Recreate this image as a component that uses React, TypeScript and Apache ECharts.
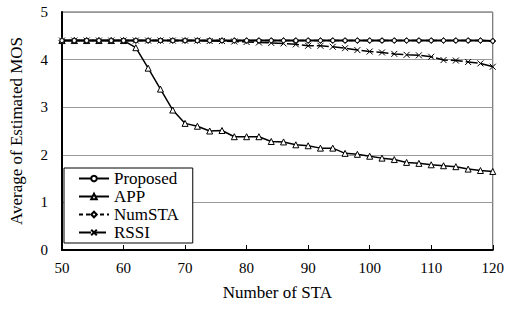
import React, { useEffect, useRef } from "react";
import * as echarts from "echarts";

const staCounts = [50, 52, 54, 56, 58, 60, 62, 64, 66, 68, 70, 72, 74, 76, 78, 80, 82, 84, 86, 88, 90, 92, 94, 96, 98, 100, 102, 104, 106, 108, 110, 112, 114, 116, 118, 120];
const proposed = [4.4, 4.4, 4.4, 4.4, 4.4, 4.4, 4.4, 4.4, 4.4, 4.4, 4.4, 4.4, 4.4, 4.4, 4.4, 4.4, 4.4, 4.4, 4.4, 4.4, 4.4, 4.4, 4.4, 4.4, 4.4, 4.4, 4.4, 4.4, 4.4, 4.4, 4.4, 4.4, 4.4, 4.4, 4.4, 4.39];
const app = [4.4, 4.4, 4.4, 4.4, 4.4, 4.4, 4.25, 3.82, 3.38, 2.94, 2.66, 2.6, 2.5, 2.51, 2.38, 2.38, 2.38, 2.28, 2.27, 2.21, 2.19, 2.14, 2.14, 2.03, 2.01, 1.97, 1.93, 1.9, 1.84, 1.82, 1.79, 1.77, 1.75, 1.7, 1.67, 1.65];
const numSta = [4.4, 4.4, 4.4, 4.4, 4.4, 4.4, 4.4, 4.4, 4.4, 4.4, 4.4, 4.4, 4.4, 4.4, 4.4, 4.4, 4.4, 4.4, 4.4, 4.4, 4.4, 4.4, 4.4, 4.4, 4.4, 4.4, 4.4, 4.4, 4.4, 4.4, 4.4, 4.4, 4.4, 4.4, 4.4, 4.39];
const rssi = [4.4, 4.4, 4.4, 4.4, 4.4, 4.4, 4.4, 4.4, 4.4, 4.4, 4.4, 4.4, 4.39, 4.39, 4.38, 4.37, 4.36, 4.35, 4.34, 4.32, 4.29, 4.29, 4.27, 4.24, 4.2, 4.17, 4.15, 4.12, 4.1, 4.09, 4.06, 3.99, 3.98, 3.95, 3.92, 3.85];

const FONT = "'Liberation Serif', 'Times New Roman', serif";

const pairs = (ys: number[]) => staCounts.map((x, i) => [x, ys[i]]);

export default function App() {
  const ref = useRef<HTMLDivElement>(null);
  useEffect(() => {
    if (!ref.current) return;
    const chart = echarts.init(ref.current, undefined, { renderer: "svg" });
    chart.setOption({
      animation: false,
      backgroundColor: "#fff",
      grid: {
        left: 53,
        right: 13,
        top: 12,
        bottom: 60,
        show: true,
        borderColor: "#555",
        borderWidth: 1,
      },
      legend: {
        orient: "vertical",
        left: 64,
        top: 168,
        width: 130,
        padding: [2, 14, 2, 14],
        itemGap: 1,
        itemWidth: 30,
        itemHeight: 7,
        borderColor: "#000",
        borderWidth: 1,
        backgroundColor: "#fff",
        textStyle: { fontFamily: FONT, fontSize: 17, color: "#000", padding: [0, 0, 0, 0], lineHeight: 16 },
        data: ["Proposed", "APP", "NumSTA", "RSSI"],
      },
      xAxis: {
        type: "value",
        min: 50,
        max: 120,
        interval: 10,
        name: "Number of STA",
        nameLocation: "middle",
        nameGap: 34,
        nameTextStyle: { fontFamily: FONT, fontSize: 17, color: "#000" },
        axisLine: { show: true, lineStyle: { color: "#000", width: 2 } },
        axisTick: { show: true, inside: true, length: 5, lineStyle: { color: "#000", width: 1 } },
        axisLabel: { fontFamily: FONT, fontSize: 15, color: "#000", margin: 10 },
        splitLine: { show: false },
      },
      yAxis: {
        type: "value",
        min: 0,
        max: 5,
        interval: 1,
        name: "Average of Estimated MOS",
        nameLocation: "middle",
        nameGap: 37,
        nameTextStyle: { fontFamily: FONT, fontSize: 17, color: "#000" },
        axisLine: { show: true, lineStyle: { color: "#000", width: 2 } },
        axisTick: { show: false },
        axisLabel: { fontFamily: FONT, fontSize: 15, color: "#000", margin: 14 },
        splitLine: { show: true, lineStyle: { color: "#999", width: 1 } },
      },
      series: [
        {
          name: "APP",
          type: "line",
          data: pairs(app),
          symbol: "triangle",
          symbolSize: 6,
          itemStyle: { color: "#fff", borderColor: "#000", borderWidth: 1 },
          lineStyle: { color: "#000", width: 1.5 },
          z: 2,
        },
        {
          name: "RSSI",
          type: "line",
          data: pairs(rssi),
          symbol: "path://M0,0L10,10M10,0L0,10",
          symbolSize: 6,
          itemStyle: { color: "none", borderColor: "#000", borderWidth: 1 },
          lineStyle: { color: "#000", width: 1.5, type: [12, 3] },
          z: 3,
        },
        {
          name: "NumSTA",
          type: "line",
          data: pairs(numSta),
          symbol: "diamond",
          symbolSize: 6,
          itemStyle: { color: "#fff", borderColor: "#000", borderWidth: 1 },
          lineStyle: { color: "#000", width: 1.5, type: [4, 3] },
          z: 4,
        },
        {
          name: "Proposed",
          type: "line",
          data: pairs(proposed),
          symbol: "circle",
          symbolSize: 4,
          itemStyle: { color: "#fff", borderColor: "#000", borderWidth: 1 },
          lineStyle: { color: "#000", width: 2 },
          z: 5,
        },
      ],
    });
    return () => chart.dispose();
  }, []);
  return <div ref={ref} style={{ width: 507, height: 310, position: "absolute", left: 0, top: 0 }} />;
}
